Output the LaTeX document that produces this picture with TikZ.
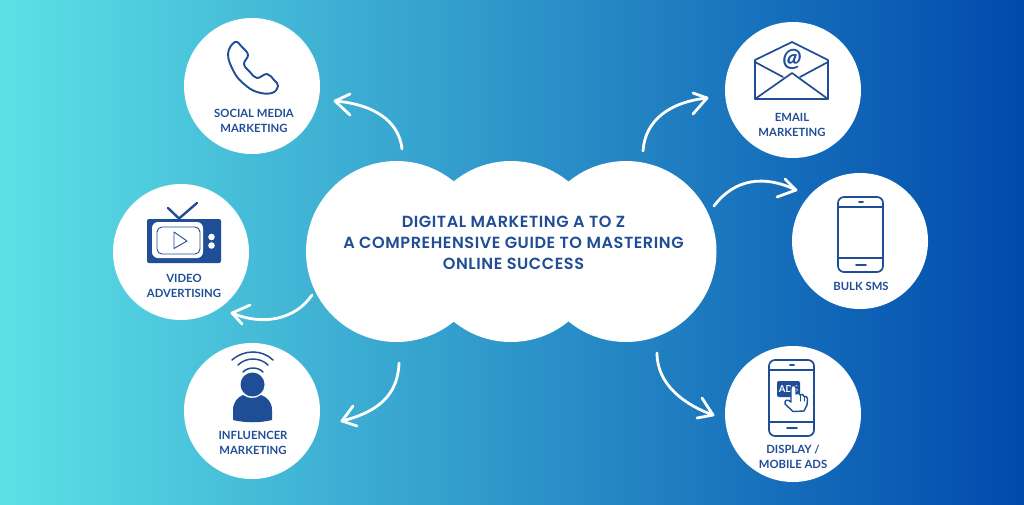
\documentclass[tikz,border=0pt]{standalone}
\usepackage{fontspec}
\setmainfont{Lato}[UprightFont=*-Bold,ItalicFont=*-BoldItalic]
\newfontfamily\titlefont[LetterSpace=3.5]{Poppins SemiBold}
\usetikzlibrary{calc}
\definecolor{inkblue}{HTML}{1F4E96}
\definecolor{bgleft}{HTML}{5CE1E6}
\definecolor{bgright}{HTML}{004AAD}
\tikzset{
  x=1pt,y=-1pt,
  bubble/.style={circle,fill=white,draw=none,minimum size=136pt,inner sep=0pt},
  lobe/.style={circle,fill=white,draw=none,minimum size=181pt,inner sep=0pt},
  label text/.style={text=inkblue,font=\fontsize{11.3}{15}\selectfont,align=center,inner sep=0pt},
  title text/.style={text=inkblue,font=\titlefont\fontsize{16.1}{21}\selectfont,align=center,inner sep=0pt},
  flow/.style={draw=white,line width=2.8pt,line cap=round,line join=round},
  icon/.style={draw=inkblue,line width=1.7pt,line cap=round,line join=round},
  solidicon/.style={fill=inkblue,draw=none},
}
\begin{document}
\begin{tikzpicture}
\useasboundingbox (0,0) rectangle (1024,504);
\shade[left color=bgleft,right color=bgright] (0,0) rectangle (1024,504);

% central cloud
\node[lobe] (cloudL) at (396.5,251.5) {};
\node[lobe] (cloudM) at (511,251.5) {};
\node[lobe] (cloudR) at (626,251.5) {};
\node[title text] (title) at (513.5,243) {DIGITAL MARKETING A TO Z\\A COMPREHENSIVE GUIDE TO MASTERING\\ONLINE SUCCESS};

% satellites
\node[bubble] (social) at (252,86) {};
\node[bubble] (video) at (181,252) {};
\node[bubble] (influencer) at (252,411) {};
\node[bubble] (email) at (793,90) {};
\node[bubble] (sms) at (860,241) {};
\node[bubble] (display) at (793,414) {};

% labels
\node[label text] (lsocial) at (254,120.5) {SOCIAL MEDIA\\MARKETING};
\node[label text] (lvideo) at (184,285.5) {VIDEO\\ADVERTISING};
\node[label text] (linfl) at (253,442.5) {INFLUENCER\\MARKETING};
\node[label text] (lemail) at (792,125) {EMAIL\\MARKETING};
\node[label text] (lsms) at (861,286) {BULK SMS};
\node[label text] (ldisp) at (793,457) {DISPLAY /\\MOBILE ADS};

% arrows: start, tip, barbs
\coordinate (s1) at (402,149); \coordinate (t1) at (335,101); \coordinate (b1a) at (350,94); \coordinate (b1b) at (350,115);
\draw[flow] (s1) .. controls (399,120) and (372,104) .. (t1);
\draw[flow] (b1a) -- (t1) -- (b1b);
\coordinate (s2) at (312,295); \coordinate (t2) at (232,313); \coordinate (b2a) at (250,305); \coordinate (b2b) at (242,324);
\draw[flow] (s2) .. controls (295,320) and (262,326) .. (t2);
\draw[flow] (b2a) -- (t2) -- (b2b);
\coordinate (s3) at (399,363); \coordinate (t3) at (342,421); \coordinate (b3a) at (353,406); \coordinate (b3b) at (357,426);
\draw[flow] (s3) .. controls (398,395) and (378,412) .. (t3);
\draw[flow] (b3a) -- (t3) -- (b3b);
\coordinate (s4) at (643,151); \coordinate (t4) at (707,98); \coordinate (b4a) at (693,93); \coordinate (b4b) at (693,114);
\draw[flow] (s4) .. controls (645,120) and (670,102) .. (t4);
\draw[flow] (b4a) -- (t4) -- (b4b);
\coordinate (s5) at (714,206); \coordinate (t5) at (796,190); \coordinate (b5a) at (785,179); \coordinate (b5b) at (777,197);
\draw[flow] (s5) .. controls (735,178) and (765,175) .. (t5);
\draw[flow] (b5a) -- (t5) -- (b5b);
\coordinate (s6) at (657,353); \coordinate (t6) at (713,415); \coordinate (b6a) at (702,398); \coordinate (b6b) at (697,418);
\draw[flow] (s6) .. controls (657,385) and (685,405) .. (t6);
\draw[flow] (b6a) -- (t6) -- (b6b);

% phone icon
\draw[icon,line width=1.9pt] plot[smooth cycle,tension=.7] coordinates {(228,54) (235,42) (242,47) (248,55) (244,64) (250,72) (257,78) (267,74) (274,80) (278,86) (272,93) (257,92) (244,84) (234,72)};

% tv icon
\draw[draw=inkblue,line width=2.4pt,line cap=round] (168,208) -- (179,218.5) -- (197,203);
\fill[solidicon,rounded corners=2pt] (147,219) rectangle (221,263);
\fill[white,rounded corners=6pt] (152,222) rectangle (203,258);
\draw[draw=inkblue,line width=.9pt,rounded corners=5pt] (157,227) rectangle (200,254);
\draw[draw=inkblue,line width=.9pt,line join=round] (174,232) -- (187,241) -- (174,248.5) -- cycle;
\fill[white] (211.5,237) circle (3.3pt) (211.5,245.5) circle (3.3pt);

% person icon
\fill[solidicon] (252.5,384.5) circle (12pt);
\fill[solidicon] (233,420) -- (233,410) .. controls (233,402) and (238,397) .. (243,395) .. controls (248,399) and (256,399) .. (261,395) .. controls (267,397) and (272,402) .. (272,410) -- (272,420) .. controls (260,423) and (245,423) .. (233,420) -- cycle;
\draw[icon,line width=1.5pt] (232,360) .. controls (244,349.3) and (262,349.3) .. (273,360);
\draw[icon,line width=1.5pt] (238,365) .. controls (246,357) and (260,357) .. (268,365);
\draw[icon,line width=1.5pt] (243,372) .. controls (248,366.7) and (258,366.7) .. (263,372);

% envelope icon
\draw[icon] (755,60) -- (792,42) -- (828,60) -- (828,99) -- (755,99) -- cycle;
\draw[icon] (755,62) -- (783,77);
\draw[icon] (828,62) -- (800,77);
\draw[icon] (755,99) -- (792,73) -- (828,99);
\node[text=inkblue,font=\fontsize{25}{25}\selectfont\itshape,inner sep=0pt] (at) at (792,59) {@};

% mobile icon
\draw[icon,rounded corners=6pt] (838,197) rectangle (883,272);
\draw[icon] (838,207) -- (883,207) (838,258) -- (883,258);
\draw[icon] (859,202) -- (863,202) (856,265) -- (866,265);

% ads phone icon
\draw[icon,rounded corners=6pt] (769,360) rectangle (814,436);
\draw[icon] (769,370) -- (814,370) (769,422) -- (814,422);
\draw[icon] (790,365) -- (794,365) (787,428) -- (797,428);
\fill[solidicon,rounded corners=2pt] (777,381) rectangle (800,397);
\node[text=white,font=\fontsize{9.5}{9.5}\selectfont,inner sep=0pt] (ads) at (788.5,389) {ADS};
\draw[icon,fill=white,line width=1.4pt] (791,402) -- (791,388) .. controls (791,384.5) and (796,384.5) .. (796,388) -- (796,394) .. controls (798,392) and (800,393) .. (800,395) .. controls (802,393.5) and (804,394.5) .. (804,396.5) .. controls (806,395.5) and (807.5,397) .. (807.5,399) -- (807,405) -- (804,411) -- (793,411.5) -- (785,404) .. controls (784,400) and (788,398.5) .. (791,402) -- cycle;
\draw[icon,line width=1pt] (800,395) -- (800,401) (804,396.5) -- (804,401);
\end{tikzpicture}
\end{document}
